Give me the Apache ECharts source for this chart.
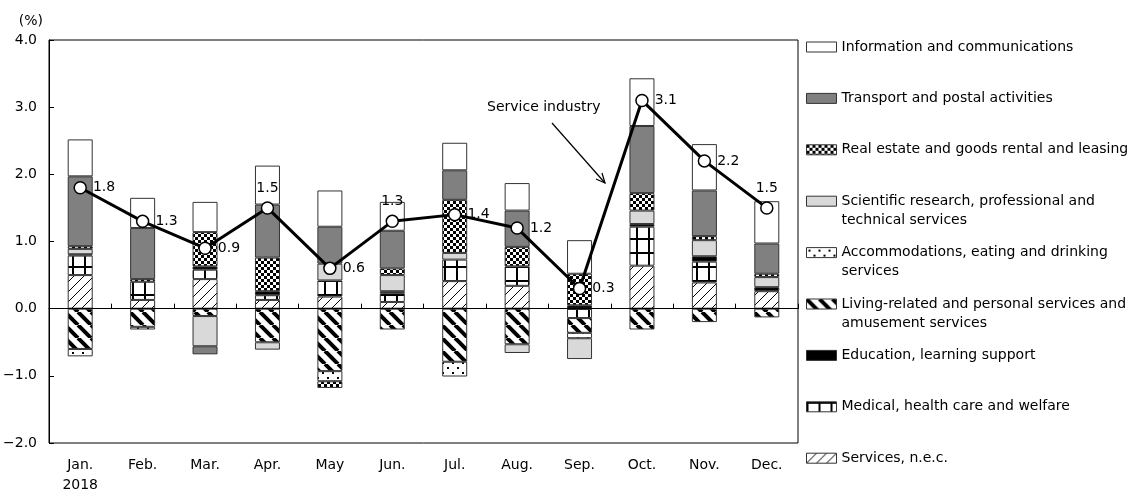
<!DOCTYPE html>
<html>
<head>
<meta charset="utf-8">
<script src="https://cdn.jsdelivr.net/npm/echarts@6/dist/echarts.min.js"></script>
<style>
  html, body { margin: 0; padding: 0; background: #fff; }
  #chart { width: 1140px; height: 496px; }
</style>
</head>
<body>
<div id="chart"></div>
<script>
// categories
const months = ['Jan.', 'Feb.', 'Mar.', 'Apr.', 'May', 'Jun.', 'Jul.', 'Aug.', 'Sep.', 'Oct.', 'Nov.', 'Dec.'];
const yearLabel = '2018';

// contributions by industry (percentage points)
const servicesNec    = [0.50, 0.13, 0.44, 0.13, 0.18, 0.10, 0.41, 0.34, 0, 0.64, 0.39, 0.26];
const medical        = [0.29, 0.27, 0.14, 0.07, 0.24, 0.13, 0.32, 0.29, -0.14, 0.58, 0.31, 0];
const education      = [0.02, 0, 0.05, 0.06, 0, 0.03, 0, 0, 0.05, 0.04, 0.08, 0.06];
const living         = [-0.60, -0.27, -0.11, -0.50, -0.93, -0.31, -0.79, -0.53, -0.22, -0.31, -0.20, -0.13];
const accommodations = [-0.11, -0.04, 0, 0, -0.15, 0, -0.22, 0, -0.08, 0, 0, 0];
const scientific     = [0.08, 0, -0.45, -0.11, 0.25, 0.24, 0.10, -0.13, -0.31, 0.20, 0.24, 0.15];
const realEstate     = [0.04, 0.04, 0.51, 0.50, -0.10, 0.10, 0.79, 0.29, 0.47, 0.26, 0.06, 0.05];
const transport      = [1.04, 0.76, -0.12, 0.79, 0.55, 0.56, 0.44, 0.54, 0, 1.00, 0.68, 0.45];
const information    = [0.55, 0.45, 0.45, 0.58, 0.54, 0.43, 0.41, 0.41, 0.50, 0.71, 0.69, 0.63];

// service industry total
const serviceIndustry = [1.8, 1.3, 0.9, 1.5, 0.6, 1.3, 1.4, 1.2, 0.3, 3.1, 2.2, 1.5];

// y axis ticks
const yMin = -2;
const yMax = 4;
const yStep = 1;

const FONT = 'DejaVu Sans';

function makePattern(w, h, draw) {
    const c = document.createElement('canvas');
    c.width = w;
    c.height = h;
    const ctx = c.getContext('2d');
    ctx.fillStyle = '#fff';
    ctx.fillRect(0, 0, w, h);
    ctx.fillStyle = '#000';
    ctx.strokeStyle = '#000';
    draw(ctx, w, h);
    return { image: c, repeat: 'repeat' };
}

const fills = {
    info: '#ffffff',
    transport: '#808080',
    realEstate: makePattern(6, 6, (ctx) => {
        ctx.fillRect(0, 0, 3, 3);
        ctx.fillRect(3, 3, 3, 3);
    }),
    scientific: '#d9d9d9',
    accommodations: makePattern(10, 10, (ctx) => {
        ctx.fillRect(2, 2, 2, 2);
        ctx.fillRect(7, 7, 2, 2);
    }),
    living: makePattern(13, 13, (ctx, w) => {
        ctx.lineWidth = 4;
        [-w, 0, w].forEach((o) => {
            ctx.beginPath();
            ctx.moveTo(o, 0);
            ctx.lineTo(o + w, w);
            ctx.stroke();
        });
    }),
    education: '#000000',
    medical: makePattern(12, 14, (ctx, w, h) => {
        ctx.fillRect(0, 0, w, 2);
        ctx.fillRect(0, 0, 2, h);
    }),
    servicesNec: makePattern(10, 10, (ctx, w) => {
        ctx.lineWidth = 1;
        [-w, 0, w].forEach((o) => {
            ctx.beginPath();
            ctx.moveTo(o, w);
            ctx.lineTo(o + w, 0);
            ctx.stroke();
        });
    })
};

// stacked bottom (closest to zero) to top
const barSeries = [
    { name: 'Services, n.e.c.', data: servicesNec, fill: fills.servicesNec },
    { name: 'Medical, health care and welfare', data: medical, fill: fills.medical },
    { name: 'Education, learning support', data: education, fill: fills.education },
    { name: 'Living-related and personal services and amusement services', data: living, fill: fills.living },
    { name: 'Accommodations, eating and drinking services', data: accommodations, fill: fills.accommodations },
    { name: 'Scientific research, professional and technical services', data: scientific, fill: fills.scientific },
    { name: 'Real estate and goods rental and leasing', data: realEstate, fill: fills.realEstate },
    { name: 'Transport and postal activities', data: transport, fill: fills.transport },
    { name: 'Information and communications', data: information, fill: fills.info }
];

// legend text with explicit line breaks
const legendText = {
    'Information and communications': 'Information and communications',
    'Transport and postal activities': 'Transport and postal activities',
    'Real estate and goods rental and leasing': 'Real estate and goods rental and leasing',
    'Scientific research, professional and technical services': 'Scientific research, professional and\ntechnical services',
    'Accommodations, eating and drinking services': 'Accommodations, eating and drinking\nservices',
    'Living-related and personal services and amusement services': 'Living-related and personal services and\namusement services',
    'Education, learning support': 'Education, learning support',
    'Medical, health care and welfare': 'Medical, health care and welfare',
    'Services, n.e.c.': 'Services, n.e.c.'
};
const legendOrder = barSeries.map((s) => s.name).reverse();

const labelAbove = ['Apr.', 'Jun.', 'Dec.'];

const LEGEND_FIRST = 47;
const LEGEND_STEP = 51.4;
const LEGEND_LINE = 19;

// text is centred on the swatch, so pad with a blank line above to keep
// the first line level with the swatch
const legends = legendOrder.map((name, i) => ({
    data: [name],
    left: 806,
    top: LEGEND_FIRST + LEGEND_STEP * i - (LEGEND_LINE * 1.5),
    orient: 'vertical',
    padding: 0,
    icon: 'rect',
    itemWidth: 30,
    itemHeight: 10,
    selectedMode: false,
    itemStyle: { borderColor: '#333', borderWidth: 1 },
    formatter: (n) => {
        const t = legendText[n];
        return ' \n' + (t.indexOf('\n') >= 0 ? t : t + '\n ');
    },
    textStyle: {
        fontFamily: FONT,
        fontSize: 14,
        color: '#000',
        lineHeight: LEGEND_LINE
    }
}));

const chart = echarts.init(document.getElementById('chart'), null, { renderer: 'canvas' });

const option = {
    animation: false,
    backgroundColor: '#fff',
    textStyle: { fontFamily: FONT },
    grid: {
        left: 49,
        right: 342,
        top: 40,
        bottom: 53,
        show: true,
        borderColor: '#000',
        borderWidth: 1,
        backgroundColor: 'transparent'
    },
    legend: legends,
    xAxis: {
        type: 'category',
        data: months,
        boundaryGap: true,
        axisLine: { show: true, lineStyle: { color: '#000', width: 1 } },
        axisTick: { show: true, inside: true, length: 5, lineStyle: { color: '#000' } },
        axisLabel: {
            color: '#000',
            fontSize: 14,
            fontFamily: FONT,
            lineHeight: 20,
            margin: 12,
            interval: 0,
            formatter: (v, i) => (i === 0 ? v + '\n' + yearLabel : v)
        },
        splitLine: { show: false }
    },
    yAxis: {
        type: 'value',
        min: yMin,
        max: yMax,
        interval: yStep,
        name: '(%)',
        nameLocation: 'end',
        nameGap: 12,
        nameTextStyle: { color: '#000', fontSize: 14, fontFamily: FONT, align: 'right', padding: [0, 6, 0, 0] },
        axisLine: { show: true, lineStyle: { color: '#000', width: 1 } },
        axisTick: { show: true, inside: true, length: 5, lineStyle: { color: '#000' } },
        axisLabel: {
            color: '#000',
            fontSize: 14,
            fontFamily: FONT,
            margin: 12,
            formatter: (v) => v.toFixed(1).replace('-', '\u2212')
        },
        splitLine: { show: false }
    },
    series: [
        ...barSeries.map((s, idx) => ({
            name: s.name,
            type: 'bar',
            stack: 'total',
            barWidth: 25,
            data: s.data.map((v) => (v === 0 ? '-' : v)),
            itemStyle: { color: s.fill, borderColor: '#333', borderWidth: 1 },
            markLine: idx === 0 ? {
                silent: true,
                symbol: 'none',
                label: { show: false },
                lineStyle: { color: '#000', width: 1, type: 'solid' },
                data: [{ yAxis: 0 }]
            } : undefined
        })),
        {
            name: 'Service industry',
            type: 'line',
            data: serviceIndustry.map((v, i) => ({
                value: v,
                label: { position: labelAbove.includes(months[i]) ? 'top' : 'right' }
            })),
            z: 5,
            symbol: 'circle',
            symbolSize: 12,
            lineStyle: { color: '#000', width: 3 },
            itemStyle: { color: '#fff', borderColor: '#000', borderWidth: 1.5 },
            label: {
                show: true,
                color: '#000',
                fontSize: 14,
                fontFamily: FONT,
                distance: 6,
                formatter: (p) => p.value.toFixed(1)
            }
        }
    ],
    graphic: [
        {
            type: 'text',
            left: 487,
            top: 100,
            style: { text: 'Service industry', fill: '#000', font: '14px "DejaVu Sans"' }
        },
        {
            type: 'line',
            shape: { x1: 552, y1: 123, x2: 605, y2: 183 },
            style: { stroke: '#000', lineWidth: 1.2 }
        },
        {
            type: 'polyline',
            shape: { points: [[602, 173], [605, 183], [596, 179]] },
            style: { stroke: '#000', lineWidth: 1.2, fill: null }
        }
    ]
};

chart.setOption(option);
</script>
</body>
</html>
